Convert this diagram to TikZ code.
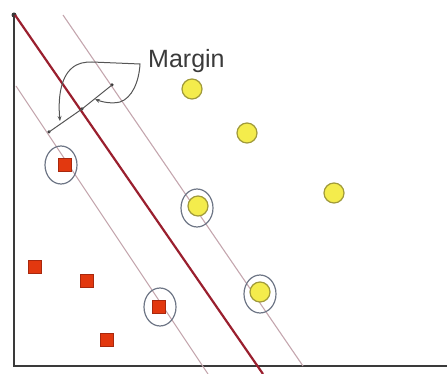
\documentclass[tikz,border=0pt]{standalone}
\usepackage{fontspec}
\setmainfont{Liberation Sans}
\usetikzlibrary{shapes.geometric,arrows.meta}
\definecolor{axisc}{HTML}{3A3A3A}
\definecolor{hyper}{HTML}{9A1F2E}
\definecolor{marg}{HTML}{C4A6AE}
\definecolor{ringc}{HTML}{6E7686}
\definecolor{yfill}{HTML}{F4EC4C}
\definecolor{ydraw}{HTML}{A09A3A}
\definecolor{sqfill}{HTML}{E2380F}
\definecolor{sqdraw}{HTML}{A8280E}
\definecolor{callc}{HTML}{555555}
\tikzset{
  axisline/.style={draw=axisc, line width=2pt},
  hyperline/.style={draw=hyper, line width=2.2pt},
  margline/.style={draw=marg, line width=1.1pt},
  ydot/.style={circle, fill=yfill, draw=ydraw, line width=1.2pt, minimum size=20pt, inner sep=0pt},
  rsq/.style={rectangle, fill=sqfill, draw=sqdraw, line width=0.8pt, minimum size=13pt, inner sep=0pt},
  ring/.style={ellipse, draw=ringc, line width=1.2pt, minimum width=32pt, minimum height=38pt, inner sep=0pt},
  pt/.style={circle, fill=axisc, minimum size=3.5pt, inner sep=0pt},
  callout/.style={draw=callc, line width=1pt},
}
\begin{document}
\begin{tikzpicture}[x=1pt,y=-1pt]
\useasboundingbox (0,0) rectangle (447,374);
% axes
\node[pt, minimum size=5pt] (top) at (14,15) {};
\coordinate (orig) at (14,366);
\coordinate (xend) at (447,366);
\draw[axisline] (top.center) -- (orig) -- (xend);
% margin lines
\coordinate (ua) at (63,15);
\coordinate (ub) at (303,366);
\coordinate (la) at (16,86);
\coordinate (lb) at (208,374);
\draw[margline] (ua) -- (ub);
\draw[margline] (la) -- (lb);
% hyperplane
\coordinate (ha) at (15,15);
\coordinate (hb) at (263,374);
\draw[hyperline] (ha) -- (hb);
% margin segment
\node[pt] (m1) at (49,132) {};
\node[pt] (m2) at (82,109) {};
\node[pt] (m3) at (112,85) {};
\draw[draw=callc, line width=1pt] (m1.center) -- (m2.center) -- (m3.center);
% callout
\coordinate (c1) at (60,121);
\coordinate (c2) at (95,99);
\draw[callout, {Stealth[length=5pt,width=4pt]}-{Stealth[length=5pt,width=4pt]}]
  (c1) .. controls (58,100) and (60,78) .. (72,68)
  .. controls (78,63) and (84,62) .. (92,62) -- (140,64)
  .. controls (139,82) and (132,98) .. (120,102)
  .. controls (112,104) and (102,102) .. (c2);
\node[anchor=base west, inner sep=0pt, font=\fontsize{25}{30}\selectfont, text=axisc] (lbl) at (148,68) {Margin};
% yellow points
\node[ydot] (y1) at (192,89) {};
\node[ydot] (y2) at (247,133) {};
\node[ydot] (y3) at (334,193) {};
\node[ydot] (y4) at (198,206) {};
\node[ydot] (y5) at (260,292) {};
% red squares
\node[rsq] (s1) at (65,165) {};
\node[rsq] (s2) at (35,267) {};
\node[rsq] (s3) at (87,281) {};
\node[rsq] (s4) at (159,307) {};
\node[rsq] (s5) at (107,340) {};
% support rings
\node[ring] (r1) at (61,165) {};
\node[ring] (r2) at (160,307) {};
\node[ring] (r3) at (197,208) {};
\node[ring] (r4) at (260,294) {};
\end{tikzpicture}
\end{document}
